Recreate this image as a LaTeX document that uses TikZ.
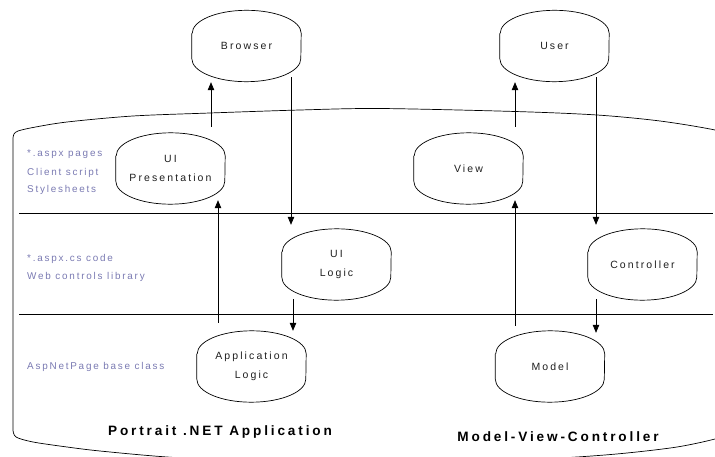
\documentclass[tikz,border=0pt]{standalone}
\usepackage{fontspec}
\setmainfont{Liberation Sans}
\newfontfamily\spacednode[LetterSpace=20]{Liberation Sans}
\newfontfamily\spacedlab[LetterSpace=18]{Liberation Sans}
\newfontfamily\spacedtitle[LetterSpace=21]{Liberation Sans}
\usetikzlibrary{arrows.meta}
\definecolor{labcol}{RGB}{122,122,178}
\newcommand\capsule[1]{%
  \draw[nodeline] ([yshift=-23pt]#1.north west) -- ([yshift=23pt]#1.south west)
    arc[start angle=180,end angle=360,x radius=54.5pt,y radius=23pt]
    -- ([yshift=-23pt]#1.north east)
    arc[start angle=0,end angle=180,x radius=54.5pt,y radius=23pt];}
\tikzset{
  box/.style={minimum width=109pt,minimum height=71pt,inner sep=0pt,align=center,
    text=black!88,font=\spacednode\fontsize{10.5}{19}\selectfont},
  nodeline/.style={line width=0.7pt},
  lab/.style={anchor=west,inner sep=0pt,text=labcol,font=\spacedlab\fontsize{9.9}{11}\selectfont},
  ttl/.style={inner sep=0pt,font=\spacedtitle\bfseries\fontsize{13.6}{15}\selectfont},
  arr/.style={line width=0.7pt,-{Triangle[length=8pt,width=6.5pt]}},
  frame/.style={line width=0.7pt},
}
\begin{document}
\begin{tikzpicture}[x=1pt,y=1pt]
\useasboundingbox (0,0) rectangle (715,-457);
\clip (0,0) rectangle (715,-457);
% outer cylinder-like frame
\draw[frame] plot[smooth,tension=0.5] coordinates {(750,-140) (715,-130) (660,-121) (597,-115) (515,-111.5) (380,-108.5) (300,-110) (210,-113) (133,-116) (67,-122) (33,-127.5) (18,-131) (14,-134) (13,-138)}
  -- plot[smooth,tension=0.5] coordinates {(13,-430) (16,-437) (33,-442) (67,-447) (100,-451) (167,-457) (270,-463) (372,-465) (474,-463) (577,-457) (627,-453) (677,-447) (715,-439) (750,-428)};
\draw[frame] (19,-213) -- (713,-213);
\draw[frame] (19,-314) -- (713,-314);
% nodes
\node[box] (browser) at (246.5,-46) {Browser};
\node[box] (user) at (554.5,-46) {User};
\node[box] (uip) at (170.5,-168.5) {UI\\Presentation};
\node[box] (view) at (468.5,-168.5) {View};
\node[box] (uil) at (336.5,-264.5) {UI\\Logic};
\node[box] (ctrl) at (642.5,-264.5) {Controller};
\node[box] (appl) at (251.5,-366.5) {Application\\Logic};
\node[box] (model) at (550,-366.5) {Model};
\foreach \n in {browser,user,uip,view,uil,ctrl,appl,model}{\capsule{\n}}
% labels
\node[lab] (l1) at (27,-154) {*.aspx pages};
\node[lab] (l2) at (27,-172.5) {Client script};
\node[lab] (l3) at (27,-190) {Stylesheets};
\node[lab] (l4) at (27,-259) {*.aspx.cs code};
\node[lab] (l5) at (27,-277) {Web controls library};
\node[lab] (l6) at (27,-367) {AspNetPage base class};
\node[ttl] (t1) at (220,-432) {Portrait .NET Application};
\node[ttl] (t2) at (558,-437) {Model-View-Controller};
% arrows
\draw[arr] ([shift={(40.5,6)}]uip.north) -- ([shift={(-35.5,-0.5)}]browser.south);
\draw[arr] ([shift={(44.5,4.5)}]browser.south) -- ([shift={(-45.5,4)}]uil.north);
\draw[arr] ([shift={(-33.5,8)}]appl.north) -- ([shift={(47.5,4)}]uip.south);
\draw[arr] ([shift={(-43.5,1)}]uil.south) -- ([shift={(41.5,0)}]appl.north);
\draw[arr] ([shift={(46.5,6)}]view.north) -- ([shift={(-39.5,-0.5)}]user.south);
\draw[arr] ([shift={(41.5,4.5)}]user.south) -- ([shift={(-46.5,4)}]ctrl.north);
\draw[arr] ([shift={(-35,5)}]model.north) -- ([shift={(46.5,4)}]view.south);
\draw[arr] ([shift={(-46.5,1)}]ctrl.south) -- ([shift={(46,-2)}]model.north);
\end{tikzpicture}
\end{document}
